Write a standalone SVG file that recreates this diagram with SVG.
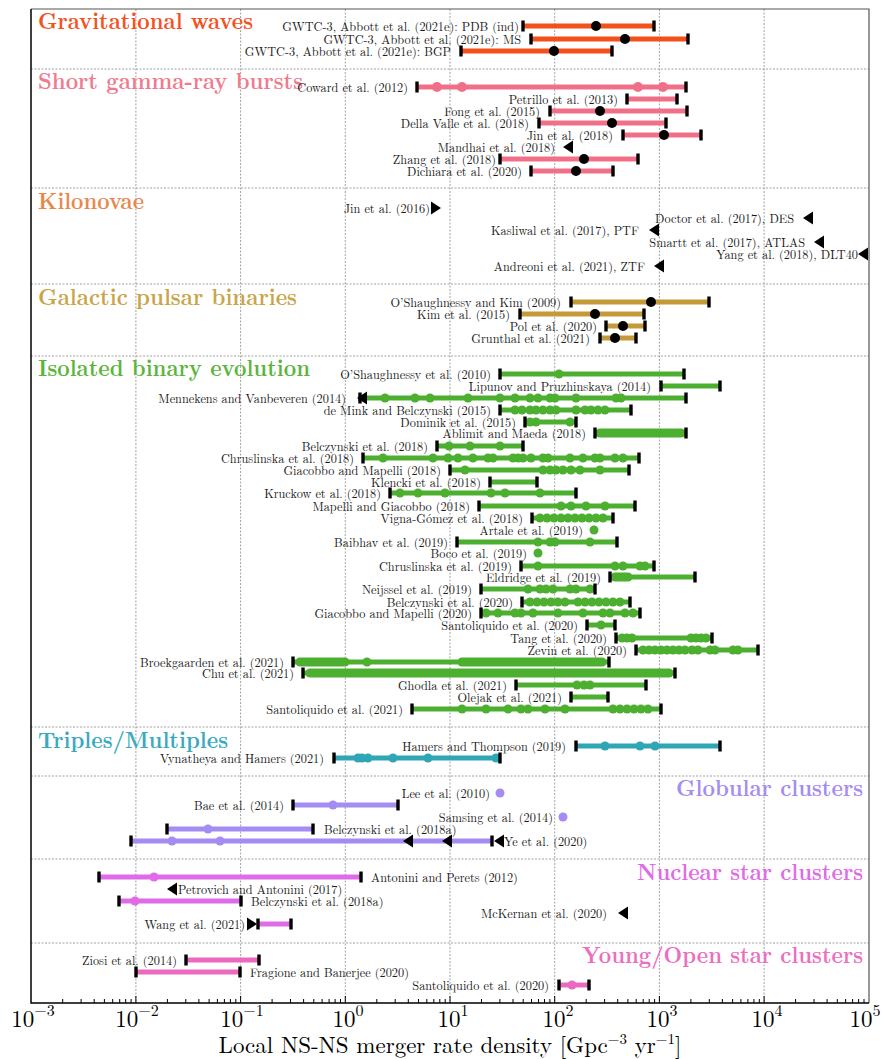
<svg xmlns="http://www.w3.org/2000/svg" width="886" height="1059" viewBox="0 0 886 1059" font-family="Latin Modern Roman, Liberation Serif, serif">
<style>
.l{font-size:12.3px;fill:#1a1a1a}
.e{text-anchor:end}
.t{font-size:23px;font-weight:bold}
.grid{stroke:#8a8a8a;stroke-width:0.8;stroke-dasharray:2 1.5;fill:none}
.bar{stroke-width:5;fill:none}
.thk{stroke-width:9;stroke-linecap:round;fill:none}
.tick{stroke:#000;stroke-width:1;fill:none}
.ax{font-size:23px;fill:#000;text-anchor:middle}
.sup{font-size:16px}
.sup2{font-size:15px}
</style>
<defs>
<path id="cap" d="M-1.7,-5.5h3.4v11h-3.4z" fill="#000"/>
<path id="tl" d="M5,-6.5L-5,0L5,6.5z" fill="#000"/>
<path id="tr" d="M-5,-6.5L5,0L-5,6.5z" fill="#000"/>
</defs>
<rect width="886" height="1059" fill="#fff"/>

<g id="grid">
<path class="grid" d="M135.9,9V1003M240.6,9V1003M345.3,9V1003M450,9V1003M554.7,9V1003M659.4,9V1003M764.1,9V1003"/>
<path class="grid" d="M31,69H869M31,188H869M31,284H869M31,356H869M31,727H869M31,776H869M31,859H869M31,943H869"/>
</g>

<g id="axes" font-family="Latin Modern Roman, Liberation Serif, serif">
<path d="M31,9H869V1003" stroke="#555" stroke-width="1.2" fill="none"/>
<path d="M31,9V1003H869" stroke="#000" stroke-width="1.5" fill="none"/>
<path class="tick" d="M135.9,1003v-7M240.6,1003v-7M345.3,1003v-7M450,1003v-7M554.7,1003v-7M659.4,1003v-7M764.1,1003v-7"/>
<path class="tick" d="M62.7,1003v-4M81.1,1003v-4M94.2,1003v-4M104.4,1003v-4M112.7,1003v-4M119.7,1003v-4M125.7,1003v-4M131.1,1003v-4M167.4,1003v-4M185.8,1003v-4M198.9,1003v-4M209.1,1003v-4M217.4,1003v-4M224.4,1003v-4M230.4,1003v-4M235.8,1003v-4M272.1,1003v-4M290.5,1003v-4M303.6,1003v-4M313.8,1003v-4M322.1,1003v-4M329.1,1003v-4M335.1,1003v-4M340.5,1003v-4M376.8,1003v-4M395.2,1003v-4M408.3,1003v-4M418.5,1003v-4M426.8,1003v-4M433.8,1003v-4M439.8,1003v-4M445.2,1003v-4M481.5,1003v-4M499.9,1003v-4M513,1003v-4M523.2,1003v-4M531.5,1003v-4M538.5,1003v-4M544.5,1003v-4M549.9,1003v-4M586.2,1003v-4M604.6,1003v-4M617.7,1003v-4M627.9,1003v-4M636.2,1003v-4M643.2,1003v-4M649.2,1003v-4M654.6,1003v-4M690.9,1003v-4M709.3,1003v-4M722.4,1003v-4M732.6,1003v-4M740.9,1003v-4M747.9,1003v-4M753.9,1003v-4M759.3,1003v-4M795.6,1003v-4M814,1003v-4M827.1,1003v-4M837.3,1003v-4M845.6,1003v-4M852.6,1003v-4M858.6,1003v-4M864,1003v-4"/>
<text class="ax" x="33" y="1027">10<tspan class="sup" dy="-11">−3</tspan></text>
<text class="ax" x="137" y="1027">10<tspan class="sup" dy="-11">−2</tspan></text>
<text class="ax" x="242" y="1027">10<tspan class="sup" dy="-11">−1</tspan></text>
<text class="ax" x="348" y="1027">10<tspan class="sup" dy="-11">0</tspan></text>
<text class="ax" x="453" y="1027">10<tspan class="sup" dy="-11">1</tspan></text>
<text class="ax" x="558" y="1027">10<tspan class="sup" dy="-11">2</tspan></text>
<text class="ax" x="662" y="1027">10<tspan class="sup" dy="-11">3</tspan></text>
<text class="ax" x="767" y="1027">10<tspan class="sup" dy="-11">4</tspan></text>
<text class="ax" x="865" y="1027">10<tspan class="sup" dy="-11">5</tspan></text>
<text class="ax" x="450" y="1053">Local NS-NS merger rate density  [Gpc<tspan class="sup2" dy="-9">−3</tspan><tspan dy="9"> yr</tspan><tspan class="sup2" dy="-9">−1</tspan><tspan dy="9">]</tspan></text>
</g>

<g id="connectors" font-family="Latin Modern Roman, Liberation Serif, serif">
<g id="gw" stroke="#F2511B" fill="#000">
<text class="t" x="38" y="29" fill="#F4511E" stroke="none" textLength="215" lengthAdjust="spacingAndGlyphs">Gravitational waves</text>
<g id="gw1"><line class="bar" x1="523" y1="26" x2="654" y2="26"/><circle cx="596" cy="26" r="5" stroke="none"/><use href="#cap" x="523" y="26" stroke="none"/><use href="#cap" x="654" y="26" stroke="none"/><text class="l e" x="519" y="30.5" stroke="none">GWTC-3, Abbott et al. (2021e): PDB (ind)</text></g>
<g id="gw2"><line class="bar" x1="531" y1="39" x2="688" y2="39"/><circle cx="625" cy="39" r="5" stroke="none"/><use href="#cap" x="531" y="39" stroke="none"/><use href="#cap" x="688" y="39" stroke="none"/><text class="l e" x="521" y="43.5" stroke="none">GWTC-3, Abbott et al. (2021e): MS</text></g>
<g id="gw3"><line class="bar" x1="461" y1="51" x2="612" y2="51"/><circle cx="554" cy="51" r="5" stroke="none"/><use href="#cap" x="461" y="51" stroke="none"/><use href="#cap" x="612" y="51" stroke="none"/><text class="l e" x="451" y="55.5" stroke="none">GWTC-3, Abbott et al. (2021e): BGP</text></g>
</g>

<g id="sgrb" stroke="#F07088" fill="#000">
<text class="t" x="38" y="89" fill="#F07A8E" stroke="none" textLength="265" lengthAdjust="spacingAndGlyphs">Short gamma-ray bursts</text>
<g id="sg1"><line class="bar" x1="417" y1="87" x2="686" y2="87"/><g fill="#F07088" stroke="none"><circle cx="437" cy="87" r="5"/><circle cx="462" cy="87" r="5"/><circle cx="638" cy="87" r="5"/><circle cx="663" cy="87" r="5"/></g><use href="#cap" x="417" y="87" stroke="none"/><use href="#cap" x="686" y="87" stroke="none"/><text class="l e" x="408" y="91.5" stroke="none">Coward et al. (2012)</text></g>
<g id="sg2"><line class="bar" x1="627" y1="99" x2="677" y2="99"/><use href="#cap" x="627" y="99" stroke="none"/><use href="#cap" x="677" y="99" stroke="none"/><text class="l e" x="618" y="103.5" stroke="none">Petrillo et al. (2013)</text></g>
<g id="sg3"><line class="bar" x1="550" y1="111" x2="687" y2="111"/><circle cx="600" cy="111" r="5" stroke="none"/><use href="#cap" x="550" y="111" stroke="none"/><use href="#cap" x="687" y="111" stroke="none"/><text class="l e" x="540" y="115.5" stroke="none">Fong et al. (2015)</text></g>
<g id="sg4"><line class="bar" x1="539" y1="123" x2="666" y2="123"/><circle cx="612" cy="123" r="5" stroke="none"/><use href="#cap" x="539" y="123" stroke="none"/><use href="#cap" x="666" y="123" stroke="none"/><text class="l e" x="529" y="127.5" stroke="none">Della Valle et al. (2018)</text></g>
<g id="sg5"><line class="bar" x1="623" y1="135" x2="701" y2="135"/><circle cx="664" cy="135" r="5" stroke="none"/><use href="#cap" x="623" y="135" stroke="none"/><use href="#cap" x="701" y="135" stroke="none"/><text class="l e" x="613" y="139.5" stroke="none">Jin et al. (2018)</text></g>
<g id="sg6"><use href="#tl" x="568" y="147" stroke="none"/><text class="l e" x="555" y="151.5" stroke="none">Mandhai et al. (2018)</text></g>
<g id="sg7"><line class="bar" x1="500" y1="159" x2="638" y2="159"/><circle cx="584" cy="159" r="5" stroke="none"/><use href="#cap" x="500" y="159" stroke="none"/><use href="#cap" x="638" y="159" stroke="none"/><text class="l e" x="496" y="163.5" stroke="none">Zhang et al. (2018)</text></g>
<g id="sg8"><line class="bar" x1="531" y1="171" x2="613" y2="171"/><circle cx="576" cy="171" r="5" stroke="none"/><use href="#cap" x="531" y="171" stroke="none"/><use href="#cap" x="613" y="171" stroke="none"/><text class="l e" x="522" y="175.5" stroke="none">Dichiara et al. (2020)</text></g>
</g>

<g id="kn">
<text class="t" x="38" y="209" fill="#E8894C" textLength="106" lengthAdjust="spacingAndGlyphs">Kilonovae</text>
<g id="kn1"><use href="#tr" x="436" y="208"/><text class="l e" x="430" y="212.5">Jin et al. (2016)</text></g>
<g id="kn2"><use href="#tl" x="808" y="218"/><text class="l e" x="794" y="222.5">Doctor et al. (2017), DES</text></g>
<g id="kn3"><use href="#tl" x="654" y="230"/><text class="l e" x="639" y="234.5">Kasliwal et al. (2017), PTF</text></g>
<g id="kn4"><use href="#tl" x="819" y="242"/><text class="l e" x="805" y="246.5">Smartt et al. (2017), ATLAS</text></g>
<g id="kn5"><use href="#tl" x="863" y="254"/><text class="l e" x="858" y="258.5">Yang et al. (2018), DLT40</text></g>
<g id="kn6"><use href="#tl" x="659" y="266"/><text class="l e" x="645" y="270.5">Andreoni et al. (2021), ZTF</text></g>
</g>

<g id="gpb" stroke="#C49A38" fill="#000">
<text class="t" x="38" y="305" fill="#C9A549" stroke="none" textLength="259" lengthAdjust="spacingAndGlyphs">Galactic pulsar binaries</text>
<g id="gp1"><line class="bar" x1="571" y1="302" x2="709" y2="302"/><circle cx="651" cy="302" r="5" stroke="none"/><use href="#cap" x="571" y="302" stroke="none"/><use href="#cap" x="709" y="302" stroke="none"/><text class="l e" x="561" y="306.5" stroke="none">O’Shaughnessy and Kim (2009)</text></g>
<g id="gp2"><line class="bar" x1="520" y1="314" x2="644" y2="314"/><circle cx="595" cy="314" r="5" stroke="none"/><use href="#cap" x="520" y="314" stroke="none"/><use href="#cap" x="644" y="314" stroke="none"/><text class="l e" x="510" y="318.5" stroke="none">Kim et al. (2015)</text></g>
<g id="gp3"><line class="bar" x1="606" y1="326" x2="645" y2="326"/><circle cx="623" cy="326" r="5" stroke="none"/><use href="#cap" x="606" y="326" stroke="none"/><use href="#cap" x="645" y="326" stroke="none"/><text class="l e" x="597" y="330.5" stroke="none">Pol et al. (2020)</text></g>
<g id="gp4"><line class="bar" x1="600" y1="338" x2="636" y2="338"/><circle cx="615" cy="338" r="5" stroke="none"/><use href="#cap" x="600" y="338" stroke="none"/><use href="#cap" x="636" y="338" stroke="none"/><text class="l e" x="590" y="342.5" stroke="none">Grunthal et al. (2021)</text></g>
</g>

<g id="ibe" stroke="#4DAF2F" fill="#4DAF2F">
<text class="t" x="38" y="376" fill="#5BB53C" stroke="none" textLength="272" lengthAdjust="spacingAndGlyphs">Isolated binary evolution</text>
<g id="ib0"><line class="bar" x1="500" y1="374" x2="684" y2="374"/><circle cx="559" cy="374" r="4.5" stroke="none"/><use href="#cap" x="500" y="374" stroke="none"/><use href="#cap" x="684" y="374" stroke="none"/><text class="l e" x="491" y="378.5" stroke="none">O’Shaughnessy et al. (2010)</text></g>
<g id="ib1"><line class="bar" x1="661" y1="386" x2="720" y2="386"/><use href="#cap" x="661" y="386" stroke="none"/><use href="#cap" x="720" y="386" stroke="none"/><text class="l e" x="651" y="390.5" stroke="none">Lipunov and Pruzhinskaya (2014)</text></g>
<g id="ib2"><line class="bar" x1="358" y1="398" x2="686" y2="398"/><g stroke="none"><circle cx="385" cy="398" r="4.5"/><circle cx="415" cy="398" r="4.5"/><circle cx="430" cy="398" r="4.5"/><circle cx="468" cy="398" r="4.5"/><circle cx="500" cy="398" r="4.5"/><circle cx="515" cy="398" r="4.5"/><circle cx="530" cy="398" r="4.5"/><circle cx="538" cy="398" r="4.5"/><circle cx="550" cy="398" r="4.5"/><circle cx="555" cy="398" r="4.5"/><circle cx="576" cy="398" r="4.5"/><circle cx="616" cy="398" r="4.5"/><circle cx="621" cy="398" r="4.5"/></g><use href="#cap" x="360" y="398" stroke="none"/><use href="#tl" x="362" y="398" stroke="none"/><use href="#cap" x="686" y="398" stroke="none"/><text class="l e" x="346" y="402.5" stroke="none">Mennekens and Vanbeveren (2014)</text></g>
<g id="ib3"><line class="bar" x1="500" y1="410" x2="631" y2="410"/><g stroke="none"><circle cx="515" cy="410" r="4.5"/><circle cx="522" cy="410" r="4.5"/><circle cx="530" cy="410" r="4.5"/><circle cx="536" cy="410" r="4.5"/><circle cx="543" cy="410" r="4.5"/><circle cx="550" cy="410" r="4.5"/><circle cx="556" cy="410" r="4.5"/><circle cx="576" cy="410" r="4.5"/><circle cx="585" cy="410" r="4.5"/><circle cx="591" cy="410" r="4.5"/><circle cx="598" cy="410" r="4.5"/><circle cx="605" cy="410" r="4.5"/></g><use href="#cap" x="500" y="410" stroke="none"/><use href="#cap" x="631" y="410" stroke="none"/><text class="l e" x="491" y="414.5" stroke="none">de Mink and Belczynski (2015)</text></g>
<g id="ib4"><line class="bar" x1="525" y1="422" x2="576" y2="422"/><g stroke="none"><circle cx="530" cy="422" r="4.5"/><circle cx="536" cy="422" r="4.5"/><circle cx="570" cy="422" r="4.5"/></g><use href="#cap" x="525" y="422" stroke="none"/><use href="#cap" x="576" y="422" stroke="none"/><text class="l e" x="516" y="426.5" stroke="none">Dominik et al. (2015)</text></g>
<g id="ib5"><line class="bar" x1="595" y1="433" x2="686" y2="433"/><line class="thk" x1="600" y1="433" x2="681" y2="433"/><use href="#cap" x="595" y="433" stroke="none"/><use href="#cap" x="686" y="433" stroke="none"/><text class="l e" x="586" y="437.5" stroke="none">Ablimit and Maeda (2018)</text></g>
<g id="ib6"><line class="bar" x1="437" y1="446" x2="523" y2="446"/><g stroke="none"><circle cx="449" cy="446" r="4.5"/><circle cx="470" cy="446" r="4.5"/><circle cx="500" cy="446" r="4.5"/></g><use href="#cap" x="437" y="446" stroke="none"/><use href="#cap" x="523" y="446" stroke="none"/><text class="l e" x="428" y="450.5" stroke="none">Belczynski et al. (2018)</text></g>
<g id="ib7"><line class="bar" x1="363" y1="458" x2="639" y2="458"/><g stroke="none"><circle cx="383" cy="458" r="4.5"/><circle cx="433" cy="458" r="4.5"/><circle cx="448" cy="458" r="4.5"/><circle cx="458" cy="458" r="4.5"/><circle cx="473" cy="458" r="4.5"/><circle cx="488" cy="458" r="4.5"/><circle cx="493" cy="458" r="4.5"/><circle cx="513" cy="458" r="4.5"/><circle cx="518" cy="458" r="4.5"/><circle cx="523" cy="458" r="4.5"/><circle cx="531" cy="458" r="4.5"/><circle cx="543" cy="458" r="4.5"/><circle cx="548" cy="458" r="4.5"/><circle cx="570" cy="458" r="4.5"/><circle cx="583" cy="458" r="4.5"/><circle cx="595" cy="458" r="4.5"/><circle cx="600" cy="458" r="4.5"/><circle cx="615" cy="458" r="4.5"/><circle cx="623" cy="458" r="4.5"/></g><use href="#cap" x="363" y="458" stroke="none"/><use href="#cap" x="639" y="458" stroke="none"/><text class="l e" x="354" y="462.5" stroke="none">Chruslinska et al. (2018)</text></g>
<g id="ib8"><line class="bar" x1="450" y1="470" x2="629" y2="470"/><g stroke="none"><circle cx="465" cy="470" r="4.5"/><circle cx="543" cy="470" r="4.5"/><circle cx="550" cy="470" r="4.5"/><circle cx="556" cy="470" r="4.5"/><circle cx="563" cy="470" r="4.5"/><circle cx="571" cy="470" r="4.5"/><circle cx="580" cy="470" r="4.5"/><circle cx="600" cy="470" r="4.5"/></g><use href="#cap" x="450" y="470" stroke="none"/><use href="#cap" x="629" y="470" stroke="none"/><text class="l e" x="441" y="474.5" stroke="none">Giacobbo and Mapelli (2018)</text></g>
<g id="ib9"><line class="bar" x1="490" y1="482" x2="537" y2="482"/><use href="#cap" x="490" y="482" stroke="none"/><use href="#cap" x="537" y="482" stroke="none"/><text class="l e" x="481" y="486.5" stroke="none">Klencki et al. (2018)</text></g>
<g id="ib10"><line class="bar" x1="390" y1="493" x2="576" y2="493"/><g stroke="none"><circle cx="400" cy="493" r="4.5"/><circle cx="418" cy="493" r="4.5"/><circle cx="445" cy="493" r="4.5"/><circle cx="491" cy="493" r="4.5"/><circle cx="505" cy="493" r="4.5"/><circle cx="540" cy="493" r="4.5"/></g><use href="#cap" x="390" y="493" stroke="none"/><use href="#cap" x="576" y="493" stroke="none"/><text class="l e" x="381" y="497.5" stroke="none">Kruckow et al. (2018)</text></g>
<g id="ib11"><line class="bar" x1="479" y1="506" x2="635" y2="506"/><g stroke="none"><circle cx="561" cy="506" r="4.5"/><circle cx="571" cy="506" r="4.5"/><circle cx="586" cy="506" r="4.5"/><circle cx="605" cy="506" r="4.5"/></g><use href="#cap" x="479" y="506" stroke="none"/><use href="#cap" x="635" y="506" stroke="none"/><text class="l e" x="470" y="510.5" stroke="none">Mapelli and Giacobbo (2018)</text></g>
<g id="ib12"><line class="bar" x1="532" y1="518" x2="613" y2="518"/><g stroke="none"><circle cx="540" cy="518" r="4.5"/><circle cx="547" cy="518" r="4.5"/><circle cx="554" cy="518" r="4.5"/><circle cx="561" cy="518" r="4.5"/><circle cx="568" cy="518" r="4.5"/><circle cx="575" cy="518" r="4.5"/><circle cx="582" cy="518" r="4.5"/><circle cx="589" cy="518" r="4.5"/><circle cx="596" cy="518" r="4.5"/><circle cx="603" cy="518" r="4.5"/></g><use href="#cap" x="532" y="518" stroke="none"/><use href="#cap" x="613" y="518" stroke="none"/><text class="l e" x="523" y="522.5" stroke="none">Vigna-Gómez et al. (2018)</text></g>
<g id="ib13"><circle cx="594" cy="530" r="4.5" stroke="none"/><text class="l e" x="583" y="534.5" stroke="none">Artale et al. (2019)</text></g>
<g id="ib14"><line class="bar" x1="457" y1="542" x2="617" y2="542"/><g stroke="none"><circle cx="538" cy="542" r="4.5"/><circle cx="550" cy="542" r="4.5"/><circle cx="555" cy="542" r="4.5"/><circle cx="590" cy="542" r="4.5"/></g><use href="#cap" x="457" y="542" stroke="none"/><use href="#cap" x="617" y="542" stroke="none"/><text class="l e" x="448" y="546.5" stroke="none">Baibhav et al. (2019)</text></g>
<g id="ib15"><circle cx="538" cy="553" r="4.5" stroke="none"/><text class="l e" x="527" y="557.5" stroke="none">Boco et al. (2019)</text></g>
<g id="ib16"><line class="bar" x1="521" y1="566" x2="654" y2="566"/><g stroke="none"><circle cx="538" cy="566" r="4.5"/><circle cx="615" cy="566" r="4.5"/><circle cx="623" cy="566" r="4.5"/><circle cx="640" cy="566" r="4.5"/><circle cx="645" cy="566" r="4.5"/></g><use href="#cap" x="521" y="566" stroke="none"/><use href="#cap" x="654" y="566" stroke="none"/><text class="l e" x="512" y="570.5" stroke="none">Chruslinska et al. (2019)</text></g>
<g id="ib17"><line class="bar" x1="610" y1="577" x2="695" y2="577"/><line class="thk" x1="615" y1="577" x2="628" y2="577"/><use href="#cap" x="610" y="577" stroke="none"/><use href="#cap" x="695" y="577" stroke="none"/><text class="l e" x="601" y="581.5" stroke="none">Eldridge et al. (2019)</text></g>
<g id="ib18"><line class="bar" x1="481" y1="589" x2="595" y2="589"/><g stroke="none"><circle cx="528" cy="589" r="4.5"/><circle cx="540" cy="589" r="4.5"/><circle cx="546" cy="589" r="4.5"/><circle cx="553" cy="589" r="4.5"/><circle cx="570" cy="589" r="4.5"/><circle cx="576" cy="589" r="4.5"/><circle cx="590" cy="589" r="4.5"/></g><use href="#cap" x="481" y="589" stroke="none"/><use href="#cap" x="595" y="589" stroke="none"/><text class="l e" x="472" y="593.5" stroke="none">Neijssel et al. (2019)</text></g>
<g id="ib19"><line class="bar" x1="522" y1="602" x2="630" y2="602"/><g stroke="none"><circle cx="530" cy="602" r="4.5"/><circle cx="537" cy="602" r="4.5"/><circle cx="544" cy="602" r="4.5"/><circle cx="551" cy="602" r="4.5"/><circle cx="558" cy="602" r="4.5"/><circle cx="565" cy="602" r="4.5"/><circle cx="578" cy="602" r="4.5"/><circle cx="585" cy="602" r="4.5"/><circle cx="592" cy="602" r="4.5"/><circle cx="599" cy="602" r="4.5"/><circle cx="606" cy="602" r="4.5"/><circle cx="613" cy="602" r="4.5"/><circle cx="620" cy="602" r="4.5"/></g><use href="#cap" x="522" y="602" stroke="none"/><use href="#cap" x="630" y="602" stroke="none"/><text class="l e" x="513" y="606.5" stroke="none">Belczynski et al. (2020)</text></g>
<g id="ib20"><line class="bar" x1="481" y1="613" x2="640" y2="613"/><g stroke="none"><circle cx="486" cy="613" r="4.5"/><circle cx="498" cy="613" r="4.5"/><circle cx="515" cy="613" r="4.5"/><circle cx="521" cy="613" r="4.5"/><circle cx="533" cy="613" r="4.5"/><circle cx="558" cy="613" r="4.5"/><circle cx="583" cy="613" r="4.5"/><circle cx="603" cy="613" r="4.5"/><circle cx="610" cy="613" r="4.5"/><circle cx="625" cy="613" r="4.5"/><circle cx="633" cy="613" r="4.5"/></g><use href="#cap" x="481" y="613" stroke="none"/><use href="#cap" x="640" y="613" stroke="none"/><text class="l e" x="472" y="617.5" stroke="none">Giacobbo and Mapelli (2020)</text></g>
<g id="ib21"><line class="bar" x1="587" y1="625" x2="615" y2="625"/><circle cx="601" cy="625" r="4.5" stroke="none"/><use href="#cap" x="587" y="625" stroke="none"/><use href="#cap" x="615" y="625" stroke="none"/><text class="l e" x="578" y="629.5" stroke="none">Santoliquido et al. (2020)</text></g>
<g id="ib22"><line class="bar" x1="616" y1="638" x2="712" y2="638"/><g stroke="none"><circle cx="622" cy="638" r="4.5"/><circle cx="627" cy="638" r="4.5"/><circle cx="632" cy="638" r="4.5"/><circle cx="691" cy="638" r="4.5"/><circle cx="696" cy="638" r="4.5"/><circle cx="701" cy="638" r="4.5"/><circle cx="706" cy="638" r="4.5"/></g><use href="#cap" x="616" y="638" stroke="none"/><use href="#cap" x="712" y="638" stroke="none"/><text class="l e" x="607" y="642.5" stroke="none">Tang et al. (2020)</text></g>
<g id="ib23"><line class="bar" x1="636" y1="650" x2="758" y2="650"/><g stroke="none"><circle cx="643" cy="650" r="4.5"/><circle cx="649" cy="650" r="4.5"/><circle cx="655" cy="650" r="4.5"/><circle cx="661" cy="650" r="4.5"/><circle cx="667" cy="650" r="4.5"/><circle cx="673" cy="650" r="4.5"/><circle cx="679" cy="650" r="4.5"/><circle cx="685" cy="650" r="4.5"/><circle cx="692" cy="650" r="4.5"/><circle cx="698" cy="650" r="4.5"/><circle cx="710" cy="650" r="4.5"/><circle cx="715" cy="650" r="4.5"/><circle cx="733" cy="650" r="4.5"/><circle cx="738" cy="650" r="4.5"/></g><use href="#cap" x="636" y="650" stroke="none"/><use href="#cap" x="758" y="650" stroke="none"/><text class="l e" x="627" y="654.5" stroke="none">Zevin et al. (2020)</text></g>
<g id="ib24"><line class="bar" x1="293" y1="662" x2="609" y2="662"/><line class="thk" x1="300" y1="662" x2="345" y2="662"/><circle cx="367" cy="662" r="4.5" stroke="none"/><line class="thk" x1="462" y1="662" x2="602" y2="662"/><use href="#cap" x="293" y="662" stroke="none"/><use href="#cap" x="609" y="662" stroke="none"/><text class="l e" x="284" y="666.5" stroke="none">Broekgaarden et al. (2021)</text></g>
<g id="ib25"><line class="bar" x1="303" y1="673" x2="675" y2="673"/><line class="thk" x1="310" y1="673" x2="669" y2="673"/><use href="#cap" x="303" y="673" stroke="none"/><use href="#cap" x="675" y="673" stroke="none"/><text class="l e" x="294" y="677.5" stroke="none">Chu et al. (2021)</text></g>
<g id="ib26"><line class="bar" x1="516" y1="685" x2="646" y2="685"/><g stroke="none"><circle cx="577" cy="685" r="4.5"/><circle cx="584" cy="685" r="4.5"/><circle cx="590" cy="685" r="4.5"/></g><use href="#cap" x="516" y="685" stroke="none"/><use href="#cap" x="646" y="685" stroke="none"/><text class="l e" x="507" y="689.5" stroke="none">Ghodla et al. (2021)</text></g>
<g id="ib27"><line class="bar" x1="571" y1="697" x2="608" y2="697"/><use href="#cap" x="571" y="697" stroke="none"/><use href="#cap" x="608" y="697" stroke="none"/><text class="l e" x="562" y="701.5" stroke="none">Olejak et al. (2021)</text></g>
<g id="ib28"><line class="bar" x1="412" y1="709" x2="661" y2="709"/><g stroke="none"><circle cx="462" cy="709" r="4.5"/><circle cx="486" cy="709" r="4.5"/><circle cx="508" cy="709" r="4.5"/><circle cx="521" cy="709" r="4.5"/><circle cx="528" cy="709" r="4.5"/><circle cx="545" cy="709" r="4.5"/><circle cx="565" cy="709" r="4.5"/><circle cx="613" cy="709" r="4.5"/><circle cx="620" cy="709" r="4.5"/><circle cx="627" cy="709" r="4.5"/><circle cx="634" cy="709" r="4.5"/><circle cx="641" cy="709" r="4.5"/><circle cx="648" cy="709" r="4.5"/></g><use href="#cap" x="412" y="709" stroke="none"/><use href="#cap" x="661" y="709" stroke="none"/><text class="l e" x="403" y="713.5" stroke="none">Santoliquido et al. (2021)</text></g>
</g>

<g id="trip" stroke="#2FA6B5" fill="#2FA6B5">
<text class="t" x="38" y="748" fill="#3AAAC0" stroke="none" textLength="190" lengthAdjust="spacingAndGlyphs">Triples/Multiples</text>
<g id="tp1"><line class="bar" x1="576" y1="746" x2="720" y2="746"/><g stroke="none"><circle cx="605" cy="746" r="4.5"/><circle cx="640" cy="746" r="4.5"/><circle cx="655" cy="746" r="4.5"/></g><use href="#cap" x="576" y="746" stroke="none"/><use href="#cap" x="720" y="746" stroke="none"/><text class="l e" x="566" y="750.5" stroke="none">Hamers and Thompson (2019)</text></g>
<g id="tp2"><line class="bar" x1="334" y1="758" x2="500" y2="758"/><g stroke="none"><circle cx="358" cy="758" r="4.5"/><circle cx="362" cy="758" r="4.5"/><circle cx="368" cy="758" r="4.5"/><circle cx="393" cy="758" r="4.5"/><circle cx="428" cy="758" r="4.5"/><circle cx="496" cy="758" r="4.5"/></g><use href="#cap" x="334" y="758" stroke="none"/><use href="#cap" x="500" y="758" stroke="none"/><text class="l e" x="324" y="762.5" stroke="none">Vynatheya and Hamers (2021)</text></g>
</g>

<g id="gc" stroke="#A48CF2" fill="#A48CF2">
<text class="t" x="863" y="796" fill="#A48CF2" stroke="none" text-anchor="end" textLength="187" lengthAdjust="spacingAndGlyphs">Globular clusters</text>
<g id="gc1"><circle cx="500" cy="793" r="4.5" stroke="none"/><text class="l e" x="490" y="797.5" stroke="none">Lee et al. (2010)</text></g>
<g id="gc2"><line class="bar" x1="293" y1="805" x2="398" y2="805"/><circle cx="333" cy="805" r="4.5" stroke="none"/><use href="#cap" x="293" y="805" stroke="none"/><use href="#cap" x="398" y="805" stroke="none"/><text class="l e" x="284" y="809.5" stroke="none">Bae et al. (2014)</text></g>
<g id="gc3"><circle cx="563" cy="817" r="4.5" stroke="none"/><text class="l e" x="553" y="821.5" stroke="none">Samsing et al. (2014)</text></g>
<g id="gc4"><line class="bar" x1="167" y1="829" x2="313" y2="829"/><circle cx="208" cy="829" r="4.5" stroke="none"/><use href="#cap" x="167" y="829" stroke="none"/><use href="#cap" x="313" y="829" stroke="none"/><text class="l" x="324" y="833.5" stroke="none">Belczynski et al. (2018a)</text></g>
<g id="gc5"><line class="bar" x1="131" y1="841" x2="492" y2="841"/><g stroke="none"><circle cx="172" cy="841" r="4.5"/><circle cx="220" cy="841" r="4.5"/></g><use href="#cap" x="131" y="841" stroke="none"/><use href="#tl" x="408" y="841" stroke="none"/><use href="#tl" x="447" y="841" stroke="none"/><use href="#cap" x="492" y="841" stroke="none"/><use href="#tl" x="499" y="841" stroke="none"/><text class="l" x="504" y="845.5" stroke="none">Ye et al. (2020)</text></g>
</g>

<g id="nsc" stroke="#E06BE8" fill="#E06BE8">
<text class="t" x="863" y="880" fill="#E06BE8" stroke="none" text-anchor="end" textLength="226" lengthAdjust="spacingAndGlyphs">Nuclear star clusters</text>
<g id="ns1"><line class="bar" x1="99" y1="877" x2="361" y2="877"/><circle cx="154" cy="877" r="4.5" stroke="none"/><use href="#cap" x="99" y="877" stroke="none"/><use href="#cap" x="361" y="877" stroke="none"/><text class="l" x="371" y="881.5" stroke="none">Antonini and Perets (2012)</text></g>
<g id="ns2"><use href="#tl" x="172" y="889" stroke="none"/><text class="l" x="178" y="893.5" stroke="none">Petrovich and Antonini (2017)</text></g>
<g id="ns3"><line class="bar" x1="119" y1="901" x2="241" y2="901"/><circle cx="135" cy="901" r="4.5" stroke="none"/><use href="#cap" x="119" y="901" stroke="none"/><use href="#cap" x="241" y="901" stroke="none"/><text class="l" x="251" y="905.5" stroke="none">Belczynski et al. (2018a)</text></g>
<g id="ns4"><use href="#tl" x="623" y="913" stroke="none"/><text class="l e" x="607" y="917.5" stroke="none">McKernan et al. (2020)</text></g>
<g id="ns5"><line class="bar" x1="258" y1="924" x2="291" y2="924"/><use href="#tr" x="252" y="924" stroke="none"/><use href="#cap" x="258" y="924" stroke="none"/><use href="#cap" x="291" y="924" stroke="none"/><text class="l e" x="245" y="928.5" stroke="none">Wang et al. (2021)</text></g>
</g>

<g id="ysc" stroke="#EA6ABF" fill="#EA6ABF">
<text class="t" x="863" y="963" fill="#EC6EC0" stroke="none" text-anchor="end" textLength="281" lengthAdjust="spacingAndGlyphs">Young/Open star clusters</text>
<g id="ys1"><line class="bar" x1="186" y1="960" x2="259" y2="960" stroke-width="6"/><use href="#cap" x="186" y="960" stroke="none"/><use href="#cap" x="259" y="960" stroke="none"/><text class="l e" x="177" y="964.5" stroke="none">Ziosi et al. (2014)</text></g>
<g id="ys2"><line class="bar" x1="136" y1="972" x2="240" y2="972" stroke-width="6"/><use href="#cap" x="136" y="972" stroke="none"/><use href="#cap" x="240" y="972" stroke="none"/><text class="l" x="250" y="976.5" stroke="none">Fragione and Banerjee (2020)</text></g>
<g id="ys3"><line class="bar" x1="559" y1="985" x2="589" y2="985" stroke-width="6"/><circle cx="572" cy="985" r="4.5" stroke="none"/><use href="#cap" x="559" y="985" stroke="none"/><use href="#cap" x="589" y="985" stroke="none"/><text class="l e" x="549" y="989.5" stroke="none">Santoliquido et al. (2020)</text></g>
</g>
</g>
</svg>
